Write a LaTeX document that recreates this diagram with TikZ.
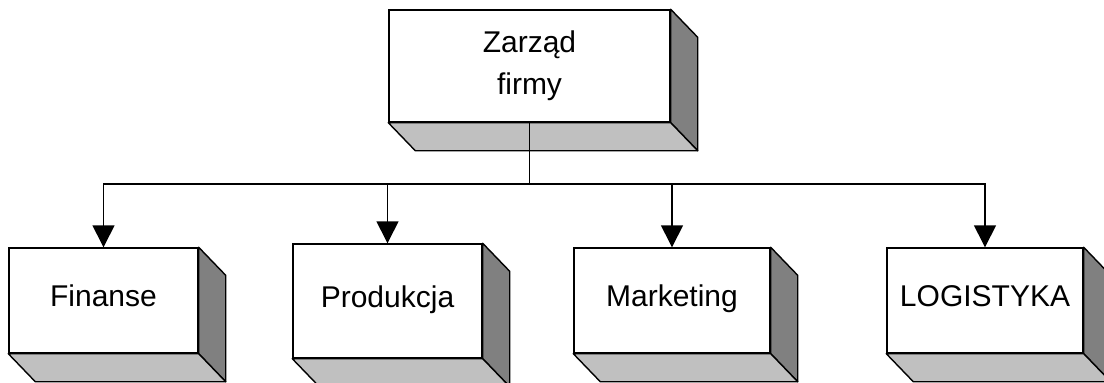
\documentclass[tikz,border=0pt]{standalone}
\usepackage{fontspec}
\setmainfont{Liberation Sans}
\usetikzlibrary{arrows.meta}
\definecolor{sidegray}{HTML}{808080}
\definecolor{bottomgray}{HTML}{C0C0C0}
\begin{document}
\begin{tikzpicture}[x=1pt,y=-1pt,line width=1.4pt,
  front/.style={draw=black, fill=white, inner sep=0pt, align=center,
    font=\fontsize{30}{42}\selectfont},
  unit/.style={front, text depth=9pt},
  sideface/.style={draw=black, fill=sidegray, line join=round},
  bottomface/.style={draw=black, fill=bottomgray, line join=round},
  link/.style={draw=black, -{Triangle[length=22pt,width=22pt]}}]
\useasboundingbox (0,0) rectangle (1104,383);
\fill[white] (0,0) rectangle (1104,383);

\node[front, minimum width=281pt, minimum height=112pt] (top) at (529.5,66) {Zarząd\\firmy};
\node[unit, minimum width=189pt, minimum height=105pt] (fin) at (103.5,300.5) {Finanse};
\node[unit, minimum width=189pt, minimum height=114pt] (prod) at (387.5,301) {Produkcja};
\node[unit, minimum width=196pt, minimum height=105pt] (mark) at (672,300.5) {Marketing};
\node[unit, minimum width=196pt, minimum height=105pt] (log) at (985,300.5) {LOGISTYKA};

\foreach \n in {top,fin,prod,mark,log}{
  \draw[sideface] (\n.north east) -- ++(27,28) -- ([shift={(27,28)}]\n.south east) -- (\n.south east) -- cycle;
  \draw[bottomface] (\n.south west) -- (\n.south east) -- ++(27,28) -- ([shift={(27,28)}]\n.south west) -- cycle;
}

\coordinate (bus) at (top.south |- 0,184);
\draw (top.south) -- (bus);
\draw[link] (bus) -| (fin.north);
\draw[link] (bus) -| (prod.north);
\draw[link] (bus) -| (mark.north);
\draw[link] (bus) -| (log.north);
\end{tikzpicture}
\end{document}
